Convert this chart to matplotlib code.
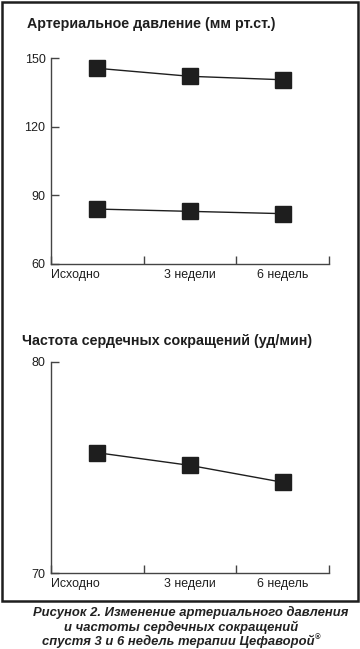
import matplotlib.pyplot as plt
from matplotlib.patches import Rectangle

plt.rcParams['font.family'] = ['Liberation Sans', 'DejaVu Sans']

W, H = 360, 649

periods = ["Исходно", "3 недели", "6 недель"]
sys_bp = [145.5, 142.0, 140.5]
dia_bp = [84.0, 83.0, 82.0]
heart_rate = [75.7, 75.1, 74.3]

bp_ticks = [60, 90, 120, 150]
hr_ticks = [70, 80]

title_bp = "Артериальное давление (мм рт.ст.)"
title_hr = "Частота сердечных сокращений (уд/мин)"
caption_lines = ["Рисунок 2. Изменение артериального давления",
                 "и частоты сердечных сокращений",
                 "спустя 3 и 6 недель терапии Цефаворой"]

INK = "#1e1e1e"
AXC = "#444444"


def px_axes(fig, left, top, right, bottom):
    return fig.add_axes([left / W, 1 - bottom / H, (right - left) / W, (bottom - top) / H])


def style_panel(ax, series_list, ticks):
    xs = [i + 0.5 for i in range(len(periods))]
    for vals in series_list:
        ax.plot(xs, vals, color=INK, lw=1.0, marker="s", ms=11.5,
                mfc=INK, mec=INK, clip_on=False, zorder=3)
    ax.set_xlim(0, len(periods))
    ax.set_ylim(ticks[0], ticks[-1])
    ax.set_yticks(ticks)
    ax.set_xticks(range(len(periods) + 1))
    ax.set_xticklabels([])
    for s in ["top", "right"]:
        ax.spines[s].set_visible(False)
    for s in ["left", "bottom"]:
        ax.spines[s].set_color(AXC)
        ax.spines[s].set_linewidth(1.0)
    ax.tick_params(axis="both", direction="in", length=6, width=1.0, color=AXC)
    ax.tick_params(axis="y", labelsize=9, pad=4, labelcolor=INK)
    # category labels
    for i, lab in enumerate(periods):
        if i == 0:
            ax.text(i, -0.022, lab, transform=ax.get_xaxis_transform(),
                    ha="left", va="top", fontsize=8.9, color=INK)
        else:
            ax.text(i + 0.5, -0.022, lab, transform=ax.get_xaxis_transform(),
                    ha="center", va="top", fontsize=8.9, color=INK)
    ax.patch.set_alpha(0)


fig = plt.figure(figsize=(W / 100, H / 100), dpi=100)

fig.patches.append(Rectangle((1.5 / W, 1 - 601 / H), 356.5 / W, 599.5 / H,
                             transform=fig.transFigure, fill=False,
                             ec=INK, lw=1.8))

ax1 = px_axes(fig, 51, 58, 329, 264)
style_panel(ax1, [sys_bp, dia_bp], bp_ticks)

ax2 = px_axes(fig, 51, 362, 329, 573)
style_panel(ax2, [heart_rate], hr_ticks)

fig.text(27 / W, 1 - 24 / H, title_bp, fontsize=10.3, fontweight="bold",
         color=INK, ha="left", va="center")
fig.text(22 / W, 1 - 341 / H, title_hr, fontsize=10.3, fontweight="bold",
         color=INK, ha="left", va="center")

cap_y = [612, 627, 641]
cap_x = [191, 181, 178]
last = None
for line, x, y in zip(caption_lines, cap_x, cap_y):
    last = fig.text(x / W, 1 - y / H, line, fontsize=9.4, fontweight="bold",
                    style="italic", color="#222222", ha="center", va="center")

# small registered sign after the last caption line
fig.canvas.draw()
bb = last.get_window_extent()
fig.text((bb.x1 + 0.5) / W, (bb.y1 - 7) / H, "\u00ae", fontsize=5.5,
         fontweight="bold", color="#222222", ha="left", va="bottom")

fig.savefig("out.png", dpi=100)
